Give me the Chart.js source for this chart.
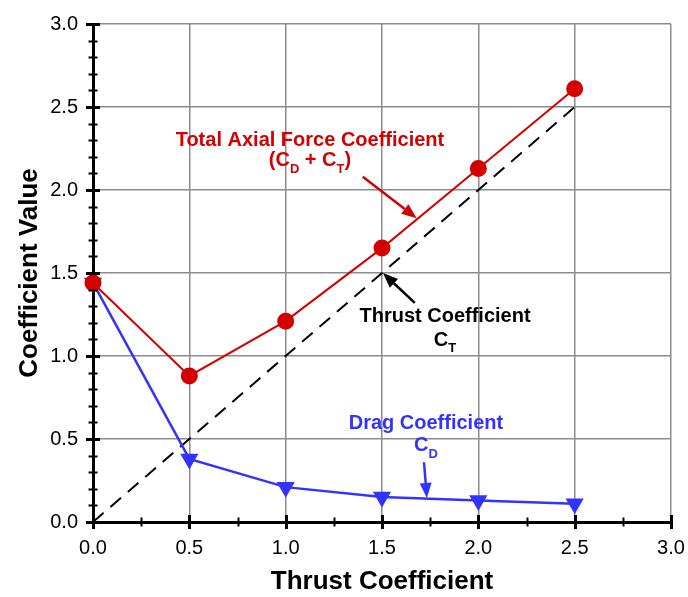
<!DOCTYPE html>
<html>
<head>
<meta charset="utf-8">
<script src="https://cdn.jsdelivr.net/npm/chart.js@4/dist/chart.umd.min.js"></script>
<style>
  body { margin: 0; background: #fff; }
  canvas { display: block; }
</style>
</head>
<body>
<canvas id="chart" width="688" height="597"></canvas>
<script>
// thrust coefficient values (x)
const thrust = [0.0, 0.5, 1.0, 1.5, 2.0, 2.5];
// total axial force coefficient CD + CT
const totalAxial = [1.44, 0.88, 1.21, 1.65, 2.13, 2.61];
// drag coefficient CD
const dragCoef = [1.44, 0.38, 0.21, 0.15, 0.13, 0.11];
// thrust coefficient CT (reference line)
const thrustLineX = [0.0, 2.5];
const thrustLineY = [0.0, 2.5];

const RED = '#d40000';
const BLUE = '#3333ff';
const FONT = '"Liberation Sans", Arial, Helvetica, sans-serif';

function toPoints(xs, ys) {
    return xs.map((x, i) => ({ x: x, y: ys[i] }));
}

// labels and arrows placed in data units
const notes = [
    { color: RED, lines: [
        [{ t: 'Total Axial Force Coefficient' }],
        [{ t: '(C' }, { t: 'D', sub: true }, { t: ' + C' }, { t: 'T', sub: true }, { t: ')' }]
      ], x: 1.126, y: [2.30, 2.175], arrow: [1.40, 2.08, 1.68, 1.83] },
    { color: '#000', lines: [
        [{ t: 'Thrust Coefficient' }],
        [{ t: 'C' }, { t: 'T', sub: true }]
      ], x: 1.827, y: [1.241, 1.096], arrow: [1.67, 1.32, 1.505, 1.50] },
    { color: BLUE, lines: [
        [{ t: 'Drag Coefficient' }],
        [{ t: 'C' }, { t: 'D', sub: true }]
      ], x: 1.728, y: [0.596, 0.458], arrow: [1.718, 0.36, 1.733, 0.145] }
];

function drawRich(ctx, parts, cx, cy, color) {
    const big = 'bold 20px ' + FONT;
    const small = 'bold 13px ' + FONT;
    let total = 0;
    parts.forEach(p => {
        ctx.font = p.sub ? small : big;
        p.w = ctx.measureText(p.t).width;
        total += p.w;
    });
    let x = cx - total / 2;
    ctx.fillStyle = color;
    ctx.textAlign = 'left';
    ctx.textBaseline = 'middle';
    parts.forEach(p => {
        ctx.font = p.sub ? small : big;
        ctx.fillText(p.t, x, p.sub ? cy + 8 : cy);
        x += p.w;
    });
}

function drawArrow(ctx, x1, y1, x2, y2, color) {
    const ang = Math.atan2(y2 - y1, x2 - x1);
    const len = 15, half = 6;
    const bx = x2 - len * Math.cos(ang);
    const by = y2 - len * Math.sin(ang);
    ctx.strokeStyle = color;
    ctx.fillStyle = color;
    ctx.lineWidth = 2.5;
    ctx.beginPath();
    ctx.moveTo(x1, y1);
    ctx.lineTo(bx, by);
    ctx.stroke();
    ctx.beginPath();
    ctx.moveTo(x2, y2);
    ctx.lineTo(bx + half * Math.sin(ang), by - half * Math.cos(ang));
    ctx.lineTo(bx - half * Math.sin(ang), by + half * Math.cos(ang));
    ctx.closePath();
    ctx.fill();
}

const decorPlugin = {
    id: 'decor',
    afterDraw(chart) {
        const ctx = chart.ctx;
        const xs = chart.scales.x;
        const ys = chart.scales.y;
        const area = chart.chartArea;
        ctx.save();
        ctx.strokeStyle = '#000';
        // y axis ticks crossing the axis line
        for (let i = 0; i <= 30; i++) {
            const py = Math.round(ys.getPixelForValue(i / 10)) + 0.5;
            const major = i % 5 === 0;
            const h = major ? 7 : 4.5;
            ctx.lineWidth = major ? 3 : 2;
            ctx.beginPath();
            ctx.moveTo(area.left - h, py);
            ctx.lineTo(area.left + h, py);
            ctx.stroke();
        }
        // x axis ticks crossing the axis line
        for (let i = 0; i <= 12; i++) {
            const px = Math.round(xs.getPixelForValue(i / 4)) + 0.5;
            const major = i % 2 === 0;
            const h = major ? 7 : 4.5;
            ctx.lineWidth = major ? 3 : 2;
            ctx.beginPath();
            ctx.moveTo(px, area.bottom - h);
            ctx.lineTo(px, area.bottom + h);
            ctx.stroke();
        }
        // annotations
        notes.forEach(n => {
            const cx = xs.getPixelForValue(n.x);
            n.lines.forEach((parts, i) => {
                drawRich(ctx, parts, cx, ys.getPixelForValue(n.y[i]), n.color);
            });
            const a = n.arrow;
            drawArrow(ctx,
                xs.getPixelForValue(a[0]), ys.getPixelForValue(a[1]),
                xs.getPixelForValue(a[2]), ys.getPixelForValue(a[3]), n.color);
        });
        ctx.restore();
    }
};

const tickFont = { family: FONT, size: 20 };
const titleFont = { family: FONT, size: 26, weight: 'bold' };

new Chart(document.getElementById('chart'), {
    type: 'line',
    data: {
        datasets: [
            {
                label: 'Total Axial Force Coefficient',
                data: toPoints(thrust, totalAxial),
                borderColor: RED,
                backgroundColor: RED,
                borderWidth: 2,
                pointRadius: 7.5,
                pointStyle: 'circle',
                clip: false,
                tension: 0
            },
            {
                label: 'Drag Coefficient',
                data: toPoints(thrust, dragCoef),
                borderColor: BLUE,
                backgroundColor: BLUE,
                borderWidth: 2.5,
                pointRadius: 8,
                pointStyle: 'triangle',
                pointRotation: 180,
                clip: false,
                tension: 0
            },
            {
                label: 'Thrust Coefficient',
                data: toPoints(thrustLineX, thrustLineY),
                borderColor: '#000',
                borderWidth: 2,
                borderDash: [14, 9],
                pointRadius: 0,
                clip: false
            }
        ]
    },
    options: {
        responsive: false,
        animation: false,
        layout: {
            padding: { top: 24, right: 17, left: 0, bottom: 0 }
        },
        plugins: {
            legend: { display: false },
            tooltip: { enabled: false }
        },
        scales: {
            x: {
                type: 'linear',
                min: 0,
                max: 3,
                ticks: {
                    stepSize: 0.5,
                    font: tickFont,
                    color: '#000',
                    padding: 14,
                    callback: v => v.toFixed(1)
                },
                grid: { color: '#8c8c8c', lineWidth: 1.5, drawTicks: false },
                border: { color: '#000', width: 3 },
                title: {
                    display: true,
                    text: 'Thrust Coefficient',
                    font: titleFont,
                    color: '#000',
                    padding: { top: 0, bottom: 0 }
                },
                afterFit: s => {
                    s.height = 75;
                    s.paddingLeft = 0;
                    s.paddingRight = 0;
                }
            },
            y: {
                type: 'linear',
                min: 0,
                max: 3,
                ticks: {
                    stepSize: 0.5,
                    font: tickFont,
                    color: '#000',
                    padding: 15,
                    callback: v => v.toFixed(1)
                },
                grid: { color: '#8c8c8c', lineWidth: 1.5, drawTicks: false },
                border: { color: '#000', width: 3 },
                title: {
                    display: true,
                    text: 'Coefficient Value',
                    font: titleFont,
                    color: '#000',
                    padding: { top: 14, bottom: 0 }
                },
                afterFit: s => {
                    s.width = 93;
                    s.paddingTop = 0;
                    s.paddingBottom = 0;
                }
            }
        }
    },
    plugins: [decorPlugin]
});
</script>
</body>
</html>
